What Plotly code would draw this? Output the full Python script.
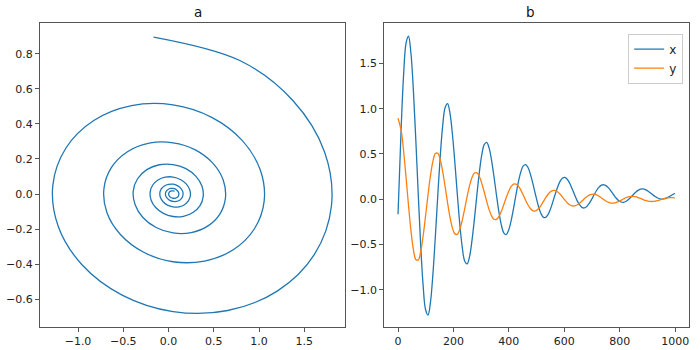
import plotly.graph_objects as go
from plotly.subplots import make_subplots

# time samples
t = [0, 11.4, 20.2, 29.0, 37.8, 46.6, 55.4, 64.2, 73.1, 81.9, 90.7, 99.5, 108.3, 117.1,
     125.9, 134.8, 143.6, 152.4, 161.2, 170.0, 178.8, 187.6, 196.4, 205.3, 214.1, 222.9,
     231.7, 240.5, 249.3, 258.1, 266.9, 275.8, 284.6, 293.4, 302.2, 311.0, 319.8, 328.6,
     337.4, 346.3, 355.1, 363.9, 372.7, 381.5, 390.3, 399.1, 407.9, 416.8, 425.6, 434.4,
     443.2, 452.0, 460.8, 469.6, 478.4, 487.3, 496.1, 504.9, 513.7, 522.5, 531.3, 540.1,
     548.9, 557.8, 566.6, 575.4, 584.2, 593.0, 601.8, 610.6, 619.4, 628.3, 637.1, 645.9,
     654.7, 663.5, 672.3, 681.1, 689.9, 698.8, 707.6, 716.4, 725.2, 734.0, 742.8, 751.6,
     760.4, 769.3, 778.1, 786.9, 795.7, 804.5, 813.3, 822.1, 830.9, 839.8, 848.6, 857.4,
     866.2, 875.0, 883.8, 892.6, 901.4, 910.3, 919.1, 927.9, 936.7, 945.5, 954.3, 963.1,
     971.9, 980.8, 989.6, 999]

x = [-0.165, 0.793, 1.376, 1.724, 1.800, 1.612, 1.205, 0.654, 0.050, -0.513, -0.956, -1.220,
     -1.278, -1.135, -0.826, -0.408, 0.050, 0.477, 0.813, 1.013, 1.057, 0.949, 0.715, 0.397,
     0.050, -0.274, -0.529, -0.681, -0.714, -0.632, -0.454, -0.214, 0.050, 0.296, 0.489,
     0.604, 0.629, 0.567, 0.432, 0.250, 0.050, -0.137, -0.283, -0.370, -0.390, -0.342,
     -0.240, -0.102, 0.050, 0.192, 0.303, 0.369, 0.383, 0.348, 0.270, 0.165, 0.050, -0.057,
     -0.142, -0.192, -0.203, -0.176, -0.117, -0.037, 0.050, 0.131, 0.195, 0.233, 0.242,
     0.221, 0.177, 0.116, 0.050, -0.012, -0.060, -0.089, -0.096, -0.080, -0.046, 0.000,
     0.050, 0.097, 0.134, 0.156, 0.160, 0.148, 0.123, 0.088, 0.050, 0.014, -0.013, -0.030,
     -0.034, -0.025, -0.005, 0.021, 0.050, 0.077, 0.098, 0.111, 0.114, 0.107, 0.092, 0.072,
     0.050, 0.030, 0.014, 0.004, 0.002, 0.007, 0.018, 0.033, 0.050, 0.067]

y = [0.895, 0.760, 0.532, 0.240, -0.067, -0.344, -0.552, -0.664, -0.670, -0.576,
     -0.403, -0.182, 0.051, 0.261, 0.419, 0.504, 0.508, 0.437, 0.306, 0.138,
     -0.039, -0.198, -0.318, -0.382, -0.386, -0.332, -0.232, -0.105, 0.029, 0.150,
     0.241, 0.290, 0.292, 0.252, 0.176, 0.080, -0.022, -0.114, -0.183, -0.220,
     -0.222, -0.191, -0.134, -0.060, 0.017, 0.087, 0.139, 0.167, 0.168, 0.145,
     0.101, 0.046, -0.013, -0.066, -0.105, -0.127, -0.128, -0.110, -0.077, -0.035,
     0.010, 0.050, 0.080, 0.096, 0.097, 0.083, 0.058, 0.026, -0.007, -0.038,
     -0.061, -0.073, -0.073, -0.063, -0.044, -0.020, 0.006, 0.029, 0.046, 0.055,
     0.056, 0.048, 0.034, 0.015, -0.004, -0.022, -0.035, -0.042, -0.042, -0.036,
     -0.025, -0.012, 0.003, 0.017, 0.026, 0.032, 0.032, 0.028, 0.019, 0.009,
     -0.002, -0.013, -0.020, -0.024, -0.024, -0.021, -0.015, -0.007, 0.002, 0.010,
     0.015, 0.018, 0.018, 0.016]

assert len(t) == len(x) == len(y)

BLUE = "#1f77b4"
ORANGE = "#ff7f0e"
AX = "#555555"
FONT = "DejaVu Sans"


def fmt(v):
    s = f"{abs(v):.1f}"
    return ("\u2212" + s) if v < 0 else s


fig = make_subplots(rows=1, cols=2, horizontal_spacing=0.0)

fig.add_trace(go.Scatter(x=x, y=y, mode="lines", line=dict(color=BLUE, width=1.3, shape="spline"),
                         showlegend=False), row=1, col=1)
fig.add_trace(go.Scatter(x=t, y=x, mode="lines", name="x", line=dict(color=BLUE, width=1.3, shape="spline")),
              row=1, col=2)
fig.add_trace(go.Scatter(x=t, y=y, mode="lines", name="y", line=dict(color=ORANGE, width=1.3, shape="spline")),
              row=1, col=2)

axcommon = dict(showgrid=False, zeroline=False, showline=True, linecolor=AX, linewidth=1,
                mirror=True, ticks="outside", ticklen=4, tickcolor=AX, automargin=False,
                tickfont=dict(family=FONT, size=11, color="#222"))

lx = [-1.0, -0.5, 0.0, 0.5, 1.0, 1.5]
ly = [-0.6, -0.4, -0.2, 0.0, 0.2, 0.4, 0.6, 0.8]
rx = [0, 200, 400, 600, 800, 1000]
ry = [-1.0, -0.5, 0.0, 0.5, 1.0, 1.5]

fig.update_xaxes(domain=[0, 0.4693], range=[-1.42, 1.945], tickvals=lx, ticktext=[fmt(v) for v in lx],
                 row=1, col=1, **axcommon)
fig.update_yaxes(range=[-0.758, 0.975], tickvals=ly, ticktext=[fmt(v) for v in ly], row=1, col=1, **axcommon)
fig.update_xaxes(domain=[0.5303, 1], range=[-50, 1050], tickvals=rx, ticktext=[str(v) for v in rx],
                 row=1, col=2, **axcommon)
fig.update_yaxes(range=[-1.41, 1.946], tickvals=ry, ticktext=[fmt(v) for v in ry], row=1, col=2, **axcommon)

fig.add_annotation(text="a", xref="paper", yref="paper", x=0.2347, y=1.0, yanchor="bottom",
                   yshift=1, showarrow=False, font=dict(family=FONT, size=13.5, color="#111"))
fig.add_annotation(text="b", xref="paper", yref="paper", x=0.7651, y=1.0, yanchor="bottom",
                   yshift=1, showarrow=False, font=dict(family=FONT, size=13.5, color="#111"))

fig.update_layout(
    width=700, height=350,
    margin=dict(l=40, r=11, t=23, b=23),
    paper_bgcolor="white", plot_bgcolor="white",
    font=dict(family=FONT, size=11, color="#222"),
    legend=dict(x=0.991, y=0.965, xanchor="right", yanchor="top", bgcolor="rgba(255,255,255,0.8)",
                bordercolor="#cccccc", borderwidth=1, font=dict(family=FONT, size=12),
                itemwidth=30, tracegroupgap=0),
)

fig.write_html("out.html", config={"displayModeBar": False},
               post_script="document.body.style.margin='0px';")
